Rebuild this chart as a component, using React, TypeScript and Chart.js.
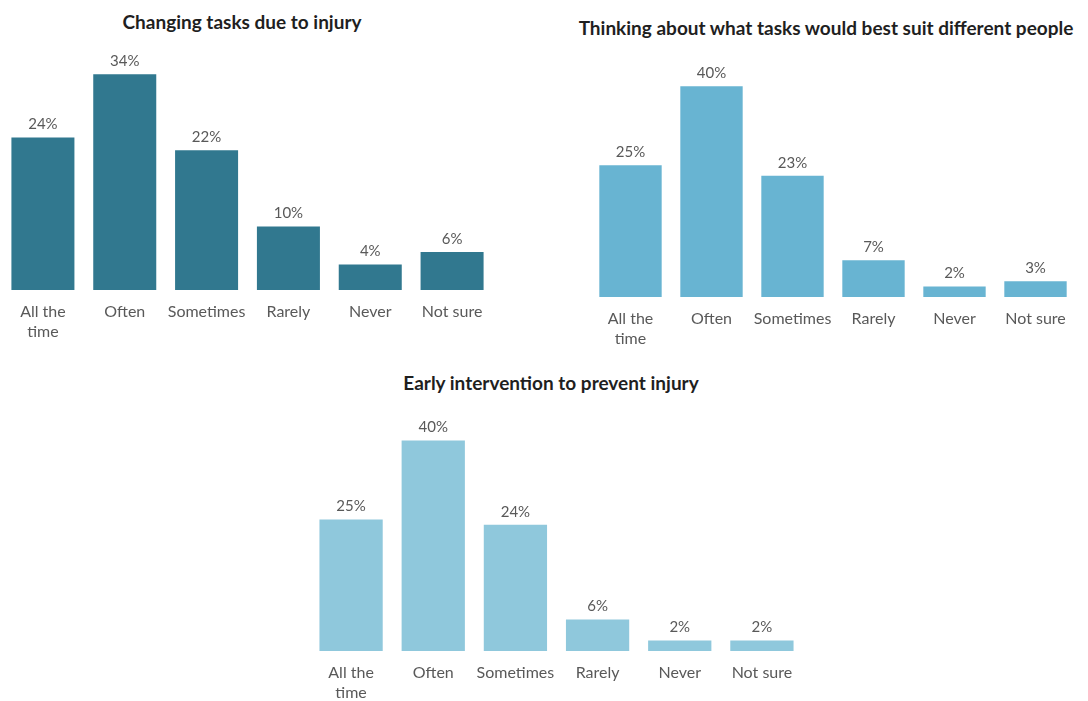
import React, { useEffect, useRef } from "react";
import { Chart, registerables } from "chart.js";

Chart.register(...registerables);

const categories: (string | string[])[] = [["All the", "time"], "Often", "Sometimes", "Rarely", "Never", "Not sure"];
const changingTasks = [24, 34, 22, 10, 4, 6];
const thinkingTasks = [25, 40, 23, 7, 2, 3];
const earlyIntervention = [25, 40, 24, 6, 2, 2];

const titles = [
  "Changing tasks due to injury",
  "Thinking about what tasks would best suit different people",
  "Early intervention to prevent injury",
];

const FONT = "Lato, 'Open Sans', sans-serif";
const LABEL_COLOR = "#595959";

const valueLabels = {
  id: "valueLabels",
  afterDatasetsDraw(chart: any) {
    const ctx = chart.ctx;
    ctx.save();
    ctx.font = `15px ${FONT}`;
    ctx.fillStyle = LABEL_COLOR;
    ctx.textAlign = "center";
    ctx.textBaseline = "middle";
    chart.data.datasets.forEach((ds: any, di: number) => {
      const meta = chart.getDatasetMeta(di);
      meta.data.forEach((bar: any, i: number) => {
        ctx.fillText(`${ds.data[i]}%`, bar.x, bar.y - 13);
      });
    });
    ctx.restore();
  },
};

type BarChartProps = {
  values: number[];
  color: string;
  yMax: number;
  left: number;
  top: number;
  width: number;
  height: number;
  padding: { left: number; right: number; top: number; bottom: number };
};

function BarChart({ values, color, yMax, left, top, width, height, padding }: BarChartProps) {
  const ref = useRef<HTMLCanvasElement>(null);
  useEffect(() => {
    if (!ref.current) return;
    const chart = new Chart(ref.current, {
      type: "bar",
      data: {
        labels: categories,
        datasets: [
          {
            data: values,
            backgroundColor: color,
            borderWidth: 0,
            categoryPercentage: 1,
            barPercentage: 0.77,
          },
        ],
      },
      options: {
        responsive: false,
        animation: false,
        layout: { padding },
        plugins: {
          legend: { display: false },
          tooltip: { enabled: false },
          title: { display: false },
        },
        scales: {
          x: {
            grid: { display: false, drawTicks: false },
            border: { display: false },
            ticks: {
              color: LABEL_COLOR,
              font: { family: FONT, size: 16, lineHeight: 1.25 },
              padding: 12,
              maxRotation: 0,
              autoSkip: false,
            },
          },
          y: {
            display: false,
            min: 0,
            max: yMax,
          },
        },
      },
      plugins: [valueLabels],
    });
    return () => chart.destroy();
  }, []);
  return (
    <canvas
      ref={ref}
      width={width}
      height={height}
      style={{ position: "absolute", left, top, width, height }}
    />
  );
}

function Title({ text, cx, cy }: { text: string; cx: number; cy: number }) {
  return (
    <div
      style={{
        position: "absolute",
        left: cx - 300,
        top: cy - 13,
        width: 600,
        height: 26,
        lineHeight: "26px",
        textAlign: "center",
        fontFamily: FONT,
        fontWeight: 700,
        fontSize: 19,
        color: "#1f1f1f",
        whiteSpace: "nowrap",
      }}
    >
      {text}
    </div>
  );
}

export default function App() {
  return (
    <div style={{ position: "absolute", left: 0, top: 0, width: 1088, height: 701, background: "#fff", overflow: "hidden" }}>
      <Title text={titles[0]} cx={242} cy={22} />
      <Title text={titles[1]} cx={826} cy={28} />
      <Title text={titles[2]} cx={551} cy={383} />
      <BarChart
        values={changingTasks}
        color="#31788f"
        yMax={37.8}
        left={0}
        top={0}
        width={500}
        height={354}
        padding={{ left: 2, right: 7, top: 50, bottom: 0 }}
      />
      <BarChart
        values={thinkingTasks}
        color="#68b4d2"
        yMax={45}
        left={570}
        top={0}
        width={518}
        height={361}
        padding={{ left: 20, right: 12, top: 60, bottom: 0 }}
      />
      <BarChart
        values={earlyIntervention}
        color="#8fc8dc"
        yMax={43.9}
        left={290}
        top={360}
        width={530}
        height={355}
        padding={{ left: 20, right: 17, top: 60, bottom: 0 }}
      />
    </div>
  );
}
